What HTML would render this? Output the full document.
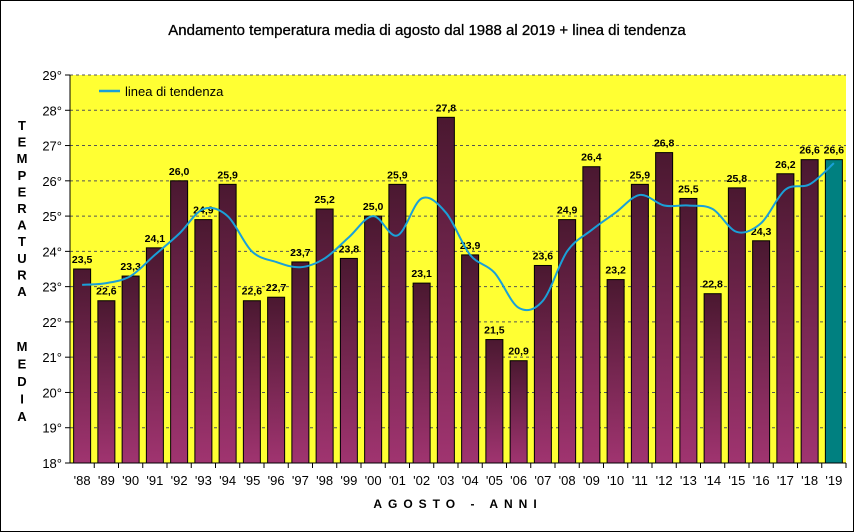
<!DOCTYPE html>
<html><head><meta charset="utf-8"><style>
body{margin:0;background:#fff}
svg{display:block;font-family:"Liberation Sans",sans-serif}
</style></head><body>
<svg id="c" width="854" height="532" viewBox="0 0 854 532">
<defs>
<linearGradient id="bg" x1="0" y1="0" x2="0" y2="1">
<stop offset="0" stop-color="#4a1830"/><stop offset="1" stop-color="#a03470"/>
</linearGradient>
</defs>
<rect x="0.5" y="0.5" width="853" height="531" fill="#fff" stroke="#000"/>
<text x="427" y="35" text-anchor="middle" font-size="15" stroke="#000" stroke-width="0.3">Andamento temperatura media di agosto dal 1988 al 2019 + linea di tendenza</text>
<rect x="70" y="75" width="776" height="388" fill="#ffff33"/>
<g id="grid"></g><g id="bars"></g><g id="labels"></g><g id="trend"></g><g id="axes"></g>
<g>
<line x1="99" y1="91" x2="120" y2="91" stroke="#1aa0d8" stroke-width="2.5"/>
<text x="125" y="96" font-size="13">linea di tendenza</text>
</g>
<text x="22" y="130" font-size="13" font-weight="bold" text-anchor="middle">
<tspan x="22" dy="0">T</tspan><tspan x="22" dy="16.6">E</tspan><tspan x="22" dy="16.6">M</tspan><tspan x="22" dy="16.6">P</tspan><tspan x="22" dy="16.6">E</tspan><tspan x="22" dy="16.6">R</tspan><tspan x="22" dy="16.6">A</tspan><tspan x="22" dy="16.6">T</tspan><tspan x="22" dy="16.6">U</tspan><tspan x="22" dy="16.6">R</tspan><tspan x="22" dy="16.6">A</tspan><tspan x="22" dy="55">M</tspan><tspan x="22" dy="17.5">E</tspan><tspan x="22" dy="17.5">D</tspan><tspan x="22" dy="17.5">I</tspan><tspan x="22" dy="17.5">A</tspan></text>
<text x="458" y="508" font-size="12" font-weight="bold" text-anchor="middle" letter-spacing="6">AGOSTO - ANNI</text>
</svg>
<script>
const years=["'88","'89","'90","'91","'92","'93","'94","'95","'96","'97","'98","'99","'00","'01","'02","'03","'04","'05","'06","'07","'08","'09","'10","'11","'12","'13","'14","'15","'16","'17","'18","'19"];
const temps=[23.5,22.6,23.3,24.1,26.0,24.9,25.9,22.6,22.7,23.7,25.2,23.8,25.0,25.9,23.1,27.8,23.9,21.5,20.9,23.6,24.9,26.4,23.2,25.9,26.8,25.5,22.8,25.8,24.3,26.2,26.6,26.6];
const trendVals=[23.05,23.1,23.3,23.9,24.5,25.2,25.0,24.0,23.7,23.55,23.8,24.4,25.0,24.45,25.5,25.1,23.9,23.4,22.4,22.6,24.0,24.6,25.1,25.6,25.3,25.3,25.2,24.55,24.8,25.75,25.9,26.5];
const yTicks=[18,19,20,21,22,23,24,25,26,27,28,29];
const NS="http://www.w3.org/2000/svg";
const X0=70,X1=846,Y0=463,Y1=75,YMIN=18,YMAX=29;
const cw=(X1-X0)/years.length;
const y=v=>Y0-(v-YMIN)/(YMAX-YMIN)*(Y0-Y1);
const xc=i=>X0+cw*(i+0.5);
function mk(t,a,p){const e=document.createElementNS(NS,t);for(const k in a)e.setAttribute(k,a[k]);p.appendChild(e);return e;}
const G=id=>document.getElementById(id);
yTicks.forEach(v=>{
 if(v>YMIN){const l=mk('line',{x1:X0,x2:X1,y1:y(v),y2:y(v),stroke:'#555','stroke-dasharray':'3,3'},G('grid'));
 
 }
 const t=mk('text',{x:X0-8,y:y(v)+5,'text-anchor':'end','font-size':13},G('axes'));t.textContent=v+'°';
 
 
 mk('line',{x1:X0-5,x2:X0,y1:y(v),y2:y(v),stroke:'#000'},G('axes'));
});
temps.forEach((v,i)=>{
 const bw=17;
 const r=mk('rect',{x:xc(i)-bw/2,y:y(v),width:bw,height:Y0-y(v),fill:i==temps.length-1?'#008080':'url(#bg)',stroke:'#000'},G('bars'));
 
 
 const t=mk('text',{x:xc(i),y:y(v)-6,'text-anchor':'middle','font-size':10.5,'font-weight':'bold'},G('labels'));
 t.textContent=v.toFixed(1).replace('.',',');
 
 
 const xt=mk('text',{x:xc(i),y:Y0+22,'text-anchor':'middle','font-size':13},G('axes'));xt.textContent=years[i];
 
 
 mk('line',{x1:X0+cw*(i+1),x2:X0+cw*(i+1),y1:Y0,y2:Y0+5,stroke:'#000'},G('axes'));
});
mk('line',{x1:X0,x2:X0,y1:Y1,y2:Y0,stroke:'#000'},G('axes'));
mk('line',{x1:X0,x2:X1,y1:Y0,y2:Y0,stroke:'#000'},G('axes'));
const pts=trendVals.map((v,i)=>[xc(i),y(v)]);
let d='M'+pts[0][0]+','+pts[0][1];
for(let i=0;i<pts.length-1;i++){
 const p0=pts[i-1]||pts[i],p1=pts[i],p2=pts[i+1],p3=pts[i+2]||p2;
 d+=' C'+(p1[0]+(p2[0]-p0[0])/6)+','+(p1[1]+(p2[1]-p0[1])/6)+' '+(p2[0]-(p3[0]-p1[0])/6)+','+(p2[1]-(p3[1]-p1[1])/6)+' '+p2[0]+','+p2[1];
}
const tl=mk('path',{d:d,fill:'none',stroke:'#1aa0d8','stroke-width':2},G('trend'));


</script>
</body></html>
